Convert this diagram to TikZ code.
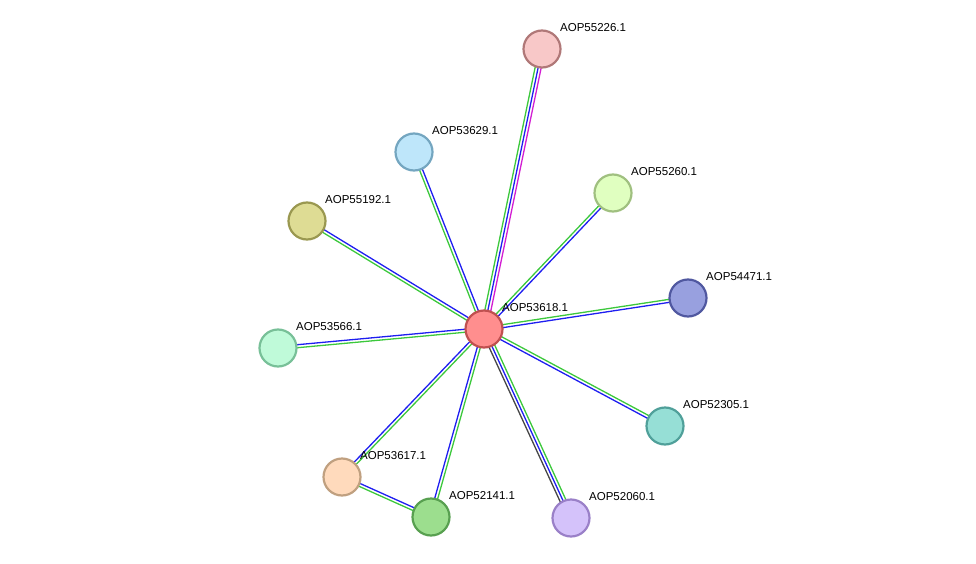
\documentclass[tikz,border=0pt]{standalone}
\usepackage{fontspec}
\setmainfont{Liberation Sans}
\usetikzlibrary{calc}
\pgfdeclarelayer{bg}\pgfsetlayers{bg,main}
\definecolor{eg}{RGB}{60,200,60}
\definecolor{eb}{RGB}{30,30,240}
\definecolor{em}{RGB}{210,30,210}
\definecolor{ek}{RGB}{70,70,70}
\tikzset{
 prot/.style={circle,minimum size=37pt,inner sep=0pt,line width=2.2pt},
 lab/.style={anchor=west,font=\fontsize{11.5}{13}\selectfont,inner sep=0pt},
 ln/.style={line width=1.3pt}
}
\newcommand{\pedge}[4]{% a b offset color
 \draw[ln,#4] ($(#1)!#3!90:(#2)$) -- ($(#2)!#3!-90:(#1)$);}
\newcommand{\prt}[6]{% name x y fill stroke label
 \definecolor{f#1}{HTML}{#4}\definecolor{s#1}{HTML}{#5}
 \node[prot,fill=f#1,draw=s#1] (#1) at (#2,#3) {};
 \node[lab] (l#1) at ($(#1)+(18,-21)$) {#6};}
\begin{document}
\begin{tikzpicture}[x=1pt,y=-1pt]
\useasboundingbox (0,0) rectangle (976,564);
\prt{c}{484}{329}{FF8E8E}{C05050}{AOP53618.1}
\prt{a}{542}{49}{F8C8C8}{B07878}{AOP55226.1}
\prt{b}{414}{152}{BEE6FA}{74A6C0}{AOP53629.1}
\prt{d}{613}{193}{E0FFC0}{A0C080}{AOP55260.1}
\prt{e}{307}{221}{DEDC94}{9A9850}{AOP55192.1}
\prt{f}{688}{298}{98A0DF}{5058A0}{AOP54471.1}
\prt{g}{278}{348}{BFFAD9}{78C098}{AOP53566.1}
\prt{h}{665}{426}{96DFD6}{50A09A}{AOP52305.1}
\prt{i}{342}{477}{FFDABC}{C0A080}{AOP53617.1}
\prt{j}{431}{517}{9CDE8E}{58A050}{AOP52141.1}
\prt{k}{571}{518}{D4C2FA}{9A80C8}{AOP52060.1}
\begin{pgfonlayer}{bg}
\foreach \n in {b,d,e,f,g,h,i,j}{
 \pedge{c}{\n}{1.5pt}{eg}\pedge{c}{\n}{-1.5pt}{eb}}
\pedge{c}{a}{3pt}{eg}\pedge{c}{a}{0pt}{eb}\pedge{c}{a}{-3pt}{em}
\pedge{c}{k}{3pt}{eg}\pedge{c}{k}{0pt}{eb}\pedge{c}{k}{-3pt}{ek}
\pedge{i}{j}{1.5pt}{eb}\pedge{i}{j}{-1.5pt}{eg}
\end{pgfonlayer}
\end{tikzpicture}
\end{document}
